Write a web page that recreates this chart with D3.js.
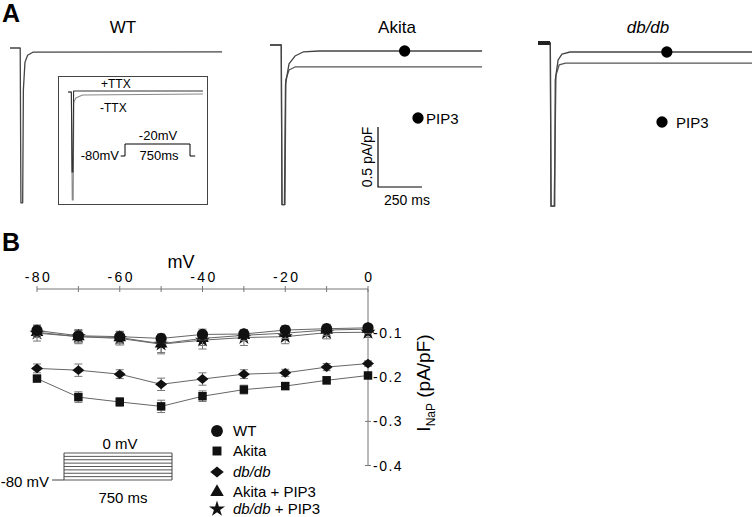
<!DOCTYPE html>
<html><head><meta charset="utf-8">
<script src="https://cdn.jsdelivr.net/npm/d3@7"></script>
<style>
html,body{margin:0;padding:0;background:#fff;}
svg{display:block;font-family:"Liberation Sans",Arial,sans-serif;}
</style></head>
<body>
<script>
// ---------- Data ----------
const voltages = [-80, -70, -60, -50, -40, -30, -20, -10, 0];
const xTickLabels = [-80, -60, -40, -20, 0];
const yTicks = [-0.1, -0.2, -0.3, -0.4];
const seriesNames = ["WT", "Akita", "db/db", "Akita + PIP3", "db/db + PIP3"];
const wtValues      = [-0.094, -0.106, -0.108, -0.112, -0.103, -0.102, -0.093, -0.090, -0.088];
const akitaValues   = [-0.203, -0.245, -0.256, -0.266, -0.243, -0.228, -0.220, -0.207, -0.196];
const dbdbValues    = [-0.180, -0.184, -0.193, -0.216, -0.204, -0.193, -0.190, -0.177, -0.169];
const akitaPipValues= [-0.098, -0.108, -0.110, -0.124, -0.112, -0.105, -0.100, -0.093, -0.091];
const dbdbPipValues = [-0.100, -0.108, -0.112, -0.125, -0.116, -0.110, -0.108, -0.099, -0.098];
const wtErr       = [0.012, 0.012, 0.012, 0.010, 0.012, 0.010, 0.010, 0.010, 0.008];
const akitaErr    = [0.006, 0.012, 0.010, 0.014, 0.012, 0.010, 0.008, 0.008, 0.005];
const dbdbErr     = [0.010, 0.014, 0.010, 0.014, 0.014, 0.010, 0.008, 0.008, 0.006];
const akitaPipErr = [0.012, 0.014, 0.014, 0.020, 0.016, 0.012, 0.012, 0.012, 0.010];
const dbdbPipErr  = [0.018, 0.016, 0.015, 0.022, 0.020, 0.018, 0.016, 0.014, 0.012];

// Panel A traces: [time ms, current pA/pF relative to holding]
const wtTrace = [[0,0],[58,0],[62,-1.29],[72,-1.29],[76,-0.35],[85,-0.12],[100,-0.06],[130,-0.035],[1205,-0.033]];
const akitaCtrlTrace = [[0,0],[64,0],[68,-1.33],[82,-1.33],[88,-0.33],[108,-0.158],[142,-0.092],[188,-0.058],[280,-0.05],[1205,-0.05]];
const akitaOtherTrace = [[0,0],[64,0],[68,-1.33],[85,-1.33],[90,-0.29],[108,-0.208],[142,-0.183],[1205,-0.183]];
const dbCtrlTrace = [[0,0],[70,0],[74,-1.36],[95,-1.36],[98,-0.31],[114,-0.142],[136,-0.092],[182,-0.075],[1216,-0.075]];
const dbOtherTrace = [[0,0],[70,0],[74,-1.36],[92,-1.36],[102,-0.27],[120,-0.183],[156,-0.167],[1216,-0.167]];
const insetPlusTTX = [[0,0],[30,0],[36,-0.8],[44,-0.8],[50,0.01],[90,0.01],[1205,0.01]];
const insetMinusTTX = [[0,0],[30,0],[38,-1.08],[46,-1.08],[52,-0.1],[70,-0.06],[130,-0.03],[1205,-0.02]];
// voltage protocols
const insetStep = [[-50,-80],[0,-80],[0,-20],[750,-20],[750,-80],[810,-80]];
const protoDuration = 750;
const protoPre = 83;

// ---------- Setup ----------
const W = 752, H = 517;
const svg = d3.select("body").append("svg").attr("width", W).attr("height", H);

svg.append("text").attr("x", 2).attr("y", 22).attr("font-size", 25).attr("font-weight", "bold").text("A");
svg.append("text").attr("x", 2).attr("y", 251).attr("font-size", 25).attr("font-weight", "bold").text("B");

// ---------- Panel A ----------
const msPx = 0.176, curPx = 120;
function drawTrace(g, data, x0, y0, color, width, xs, ys) {
  const sx = xs || (t => x0 + t * msPx);
  const sy = ys || (v => y0 - v * curPx);
  g.append("path").datum(data)
    .attr("d", d3.line().x(d => sx(d[0])).y(d => sy(d[1])))
    .attr("fill", "none").attr("stroke", color).attr("stroke-width", width)
    .attr("stroke-linejoin", "round");
}
const gA = svg.append("g");
gA.append("text").attr("x", 123).attr("y", 33).attr("text-anchor", "middle").attr("font-size", 17).text("WT");
gA.append("text").attr("x", 397).attr("y", 33).attr("text-anchor", "middle").attr("font-size", 17).text("Akita");
gA.append("text").attr("x", 648).attr("y", 33).attr("text-anchor", "middle").attr("font-size", 17).attr("font-style", "italic").text("db/db");

drawTrace(gA, wtTrace, 10, 48, "#444", 1.3);
drawTrace(gA, akitaOtherTrace, 270, 45, "#555", 1.3);
drawTrace(gA, akitaCtrlTrace, 270, 45, "#444", 1.3);
drawTrace(gA, dbOtherTrace, 538, 43, "#555", 1.3);
drawTrace(gA, dbCtrlTrace, 538, 43, "#444", 1.3);
gA.append("rect").attr("x", 538).attr("y", 41).attr("width", 12).attr("height", 4).attr("fill", "#222");

const circleSym = d3.symbol().type(d3.symbolCircle).size(100);
gA.append("path").attr("d", circleSym()).attr("transform", `translate(${270 + 765*msPx},${45 + 0.05*curPx})`);
gA.append("path").attr("d", circleSym()).attr("transform", `translate(${538 + 732*msPx},${43 + 0.075*curPx})`);
gA.append("path").attr("d", circleSym()).attr("transform", "translate(418,118)");
gA.append("text").attr("x", 426).attr("y", 124).attr("font-size", 15).text("PIP3");
gA.append("path").attr("d", circleSym()).attr("transform", "translate(662,122)");
gA.append("text").attr("x", 676).attr("y", 128).attr("font-size", 15).text("PIP3");

const sbX = 378, sbY = 187;
gA.append("path").attr("d", `M${sbX},${sbY - 0.5*curPx}V${sbY}H${sbX + 250*msPx}`)
  .attr("fill", "none").attr("stroke", "#000").attr("stroke-width", 1.2);
gA.append("text").attr("transform", `translate(372,${sbY - 0.25*curPx}) rotate(-90)`)
  .attr("text-anchor", "middle").attr("font-size", 14).text("0.5 pA/pF");
gA.append("text").attr("x", 407).attr("y", 205).attr("text-anchor", "middle").attr("font-size", 14).text("250 ms");

gA.append("rect").attr("x", 58.5).attr("y", 76.5).attr("width", 149).attr("height", 128)
  .attr("fill", "none").attr("stroke", "#444").attr("stroke-width", 1);
const insX = t => 68 + t * 0.112, insY = v => 92 - v * 100;
drawTrace(gA, insetMinusTTX, 0, 0, "#888", 1.1, insX, insY);
drawTrace(gA, insetPlusTTX, 0, 0, "#333", 1.1, insX, insY);
gA.append("text").attr("x", 101).attr("y", 88).attr("font-size", 12).text("+TTX");
gA.append("text").attr("x", 100).attr("y", 112).attr("font-size", 12).text("-TTX");
const stX = t => 125 + t * (65/750), stY = v => 156 + (v + 80) * (-12/60);
gA.append("path").datum(insetStep)
  .attr("d", d3.line().x(d => stX(d[0])).y(d => stY(d[1])))
  .attr("fill", "none").attr("stroke", "#000").attr("stroke-width", 1);
gA.append("text").attr("x", 158).attr("y", 140).attr("text-anchor", "middle").attr("font-size", 13).text("-20mV");
gA.append("text").attr("x", 119).attr("y", 160).attr("text-anchor", "end").attr("font-size", 13).text("-80mV");
gA.append("text").attr("x", 159).attr("y", 160).attr("text-anchor", "middle").attr("font-size", 13).text("750ms");

// ---------- Panel B ----------
const x = d3.scaleLinear().domain([-80, 0]).range([37, 368]);
const y = d3.scaleLinear().domain([0, -0.4]).range([289, 465.5]);
const gB = svg.append("g");

gB.append("line").attr("x1", x(-80)).attr("x2", x(0)).attr("y1", y(0)).attr("y2", y(0)).attr("stroke", "#777");
gB.selectAll(".xt").data(voltages).join("line")
  .attr("x1", d => x(d)).attr("x2", d => x(d)).attr("y1", y(0) - 3).attr("y2", y(0) + 3).attr("stroke", "#777");
gB.selectAll(".xl").data(xTickLabels).join("text")
  .attr("x", d => x(d) + 1.5).attr("y", 282).attr("text-anchor", "middle")
  .attr("font-size", 14).attr("letter-spacing", "2.5px").text(d => d);
gB.append("text").attr("x", 181).attr("y", 268).attr("text-anchor", "middle").attr("font-size", 18).text("mV");

gB.append("line").attr("x1", x(0)).attr("x2", x(0)).attr("y1", y(0)).attr("y2", y(-0.4)).attr("stroke", "#777");
gB.selectAll(".yt").data(yTicks).join("line")
  .attr("x1", x(0) - 3).attr("x2", x(0) + 3).attr("y1", d => y(d)).attr("y2", d => y(d)).attr("stroke", "#777");
gB.selectAll(".yl").data(yTicks).join("text")
  .attr("x", 373).attr("y", d => y(d) + 5).attr("font-size", 14).attr("letter-spacing", "1.5px").text(d => d.toFixed(1));
const yl = gB.append("text").attr("transform", "translate(430,383) rotate(-90)").attr("text-anchor", "middle").attr("font-size", 19);
yl.append("tspan").text("I");
yl.append("tspan").attr("font-size", 12).attr("dy", 5).text("NaP");
yl.append("tspan").attr("dy", -5).text(" (pA/pF)");

const diamondSym = {
  draw(ctx, size) {
    const r = Math.sqrt(size / 2);
    ctx.moveTo(0, -r * 0.9); ctx.lineTo(r * 1.1, 0); ctx.lineTo(0, r * 0.9); ctx.lineTo(-r * 1.1, 0); ctx.closePath();
  }
};
const series = [
  {name: seriesNames[0], values: wtValues, err: wtErr, sym: d3.symbolCircle, size: 100},
  {name: seriesNames[1], values: akitaValues, err: akitaErr, sym: d3.symbolSquare, size: 72},
  {name: seriesNames[2], values: dbdbValues, err: dbdbErr, sym: diamondSym, size: 60},
  {name: seriesNames[3], values: akitaPipValues, err: akitaPipErr, sym: d3.symbolTriangle, size: 70},
  {name: seriesNames[4], values: dbdbPipValues, err: dbdbPipErr, sym: d3.symbolStar, size: 70}
];
const drawOrder = [4, 3, 0, 2, 1];
const line = d3.line().x((d, i) => x(voltages[i])).y(d => y(d));
drawOrder.forEach(si => {
  const s = series[si];
  const g = gB.append("g");
  g.append("path").datum(s.values).attr("d", line).attr("fill", "none").attr("stroke", "#666").attr("stroke-width", 1);
  s.values.forEach((v, i) => {
    const cx = x(voltages[i]), e = s.err[i];
    g.append("path").attr("d", `M${cx},${y(v - e)}V${y(v + e)}M${cx - 4},${y(v - e)}H${cx + 4}M${cx - 4},${y(v + e)}H${cx + 4}`)
      .attr("stroke", "#777").attr("stroke-width", 1).attr("fill", "none");
  });
  g.selectAll(".m").data(s.values).join("path")
    .attr("d", d3.symbol().type(s.sym).size(s.size))
    .attr("transform", (d, i) => `translate(${x(voltages[i])},${y(d)})`).attr("fill", "#111");
});

const legY = [431, 451, 472, 492, 509];
series.forEach((s, i) => {
  gB.append("path").attr("d", d3.symbol().type(s.sym).size(i === 0 ? 110 : (i === 2 ? 75 : 80)))
    .attr("transform", `translate(217,${legY[i]})`).attr("fill", "#111");
  const t = gB.append("text").attr("x", 233).attr("y", legY[i] + 5).attr("font-size", 15);
  if (s.name.startsWith("db/db")) {
    t.append("tspan").attr("font-style", "italic").text("db/db");
    if (s.name.length > 5) t.append("tspan").text(" + PIP3");
  } else t.text(s.name);
});

// voltage protocol inset (B)
const pX = t => 64 + t * (108 / protoDuration);
const pY = v => 480 - (v + 80) * (27 / 80);
gB.append("line").attr("x1", pX(-protoPre)).attr("x2", pX(0)).attr("y1", pY(-80)).attr("y2", pY(-80)).attr("stroke", "#444");
gB.selectAll(".pl").data(voltages).join("line")
  .attr("x1", pX(0)).attr("x2", pX(protoDuration)).attr("y1", d => pY(d)).attr("y2", d => pY(d))
  .attr("stroke", "#444").attr("stroke-width", 0.9);
gB.append("line").attr("x1", pX(0)).attr("x2", pX(0)).attr("y1", pY(-80)).attr("y2", pY(0)).attr("stroke", "#444");
gB.append("line").attr("x1", pX(protoDuration)).attr("x2", pX(protoDuration)).attr("y1", pY(-80)).attr("y2", pY(0)).attr("stroke", "#444");
gB.append("text").attr("x", 120).attr("y", 449).attr("text-anchor", "middle").attr("font-size", 15).text("0 mV");
gB.append("text").attr("x", 49).attr("y", 487).attr("text-anchor", "end").attr("font-size", 15).text("-80 mV");
gB.append("text").attr("x", 123).attr("y", 503).attr("text-anchor", "middle").attr("font-size", 15).text("750 ms");
</script>
</body></html>
